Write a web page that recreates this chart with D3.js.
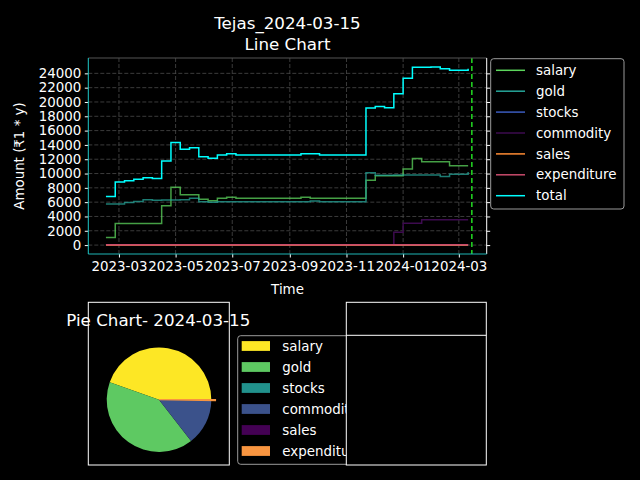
<!DOCTYPE html>
<html>
<head>
<meta charset="utf-8">
<script src="https://cdn.jsdelivr.net/npm/d3@7"></script>
<style>
  html, body { margin: 0; padding: 0; background: #000; }
  svg { display: block; font-family: "DejaVu Sans", sans-serif; }
</style>
</head>
<body>
<svg id="chart" width="640" height="480"></svg>
<script>
// ---------------- data ----------------
const dates = ["2023-02-15","2023-02-25","2023-03-07","2023-03-17","2023-03-27","2023-04-06","2023-04-16","2023-04-26",
  "2023-05-06","2023-05-16","2023-05-26","2023-06-05","2023-06-15","2023-06-25","2023-07-05","2023-07-15",
  "2023-07-25","2023-08-04","2023-08-14","2023-08-24","2023-09-03","2023-09-13","2023-09-23","2023-10-03",
  "2023-10-13","2023-10-23","2023-11-02","2023-11-12","2023-11-22","2023-12-02","2023-12-12","2023-12-22",
  "2024-01-01","2024-01-11","2024-01-21","2024-01-31","2024-02-10","2024-02-20","2024-03-01","2024-03-11"];

const salary = [1050,3000,3000,3000,3000,3000,5500,8100,7050,7050,6400,6200,6550,6700,6550,6550,
  6550,6550,6550,6550,6550,6700,6550,6550,6550,6550,6550,6550,9050,9700,9700,9700,
  10650,12100,11650,11650,11650,11100,11100,11100];
const gold = [5750,5750,5950,6100,6350,6250,6300,6300,6350,6550,6050,6000,6050,6050,6050,6050,
  6050,6050,6050,6050,6050,6050,6150,6050,6050,6050,6050,6050,10100,9750,9750,9800,
  9800,9800,9800,9800,9600,9900,9900,10200];
const stocks = [0,0,0,0,0,0,0,0,0,0,0,0,0,0,0,0,0,0,0,0,0,0,0,0,0,0,0,0,0,0,0,0,0,0,0,0,0,0,0,0];
const commodity = [0,0,0,0,0,0,0,0,0,0,0,0,0,0,0,0,0,0,0,0,0,0,0,0,0,0,0,0,0,0,0,1800,
  3050,3050,3550,3550,3550,3550,3550,3550];
const sales = [0,0,0,0,0,0,0,0,0,0,0,0,0,0,0,0,0,0,0,0,0,0,0,0,0,0,0,0,0,0,0,0,0,0,0,0,0,0,0,0];
const expenditure = [60,60,60,60,60,60,60,60,60,60,60,60,60,60,60,60,60,60,60,60,60,60,60,60,60,60,60,60,60,60,60,60,60,60,60,60,60,60,60,60];
const total = [6800,8800,9000,9200,9400,9300,11750,14350,13400,13600,12350,12150,12600,12750,12600,12600,
  12600,12600,12600,12600,12600,12750,12750,12600,12600,12600,12600,12600,19150,19350,19200,21150,
  23300,24850,24850,24900,24650,24450,24450,24650];

const seriesNames = ["salary","gold","stocks","commodity","sales","expenditure","total"];
const seriesValues = [salary, gold, stocks, commodity, sales, expenditure, total];
const lineColors = ["#5cd65c","#26a69a","#3b5bbf","#3d0b4f","#ff8c33","#c94b6c","#00ffff"];
const lineOpacity = [0.75,0.75,1,1,1,1,1];

const pieNames = ["salary","gold","stocks","commodity","sales","expenditure"];
const pieColors = ["#fde725","#5ec962","#21918c","#3b528b","#440154","#f89540"];

const yTicks = [0,2000,4000,6000,8000,10000,12000,14000,16000,18000,20000,22000,24000];
const xTicks = ["2023-03-01","2023-05-01","2023-07-01","2023-09-01","2023-11-01","2024-01-01","2024-03-01"];
const markerDate = "2024-03-15";
const titleText = ["Tejas_2024-03-15", "Line Chart"];
const pieTitle = "Pie Chart- 2024-03-15";

// ---------------- drawing ----------------
const parse = d3.utcParse("%Y-%m-%d");
const svg = d3.select("#chart");
const FONT = 13.4;

const plot = {left: 88.3, right: 486.7, top: 58, bottom: 254};
const x = d3.scaleUtc().domain([parse("2023-01-27"), parse("2024-03-31")]).range([plot.left, plot.right]);
const y = d3.scaleLinear().domain([-1245, 26145]).range([plot.bottom, plot.top]);

svg.append("rect").attr("width",640).attr("height",480).attr("fill","#000");

// grid
const grid = svg.append("g").attr("stroke","#4a4a4a").attr("stroke-width",0.8).attr("stroke-dasharray","4,2");
grid.selectAll("line.h").data(yTicks).join("line")
  .attr("x1",plot.left).attr("x2",plot.right).attr("y1",d=>y(d)).attr("y2",d=>y(d));
grid.selectAll("line.v").data(xTicks).join("line")
  .attr("y1",plot.top).attr("y2",plot.bottom).attr("x1",d=>x(parse(d))).attr("x2",d=>x(parse(d)));

// lines
const line = d3.line().curve(d3.curveStepAfter).x(d=>x(d[0])).y(d=>y(d[1]));
svg.append("clipPath").attr("id","plotclip").append("rect")
  .attr("x",plot.left).attr("y",plot.top).attr("width",plot.right-plot.left).attr("height",plot.bottom-plot.top);
const lg = svg.append("g").attr("clip-path","url(#plotclip)");
seriesValues.forEach((vals,i)=>{
  const pts = dates.map((d,j)=>[parse(d), vals[j]]);
  lg.append("path").attr("d", line(pts)).attr("fill","none")
    .attr("stroke", lineColors[i]).attr("stroke-opacity", lineOpacity[i]).attr("stroke-width",1.5);
});

// marker line
lg.append("line").attr("x1",x(parse(markerDate))).attr("x2",x(parse(markerDate)))
  .attr("y1",plot.top).attr("y2",plot.bottom)
  .attr("stroke","#22dd22").attr("stroke-width",1.5).attr("stroke-dasharray","5,3");

// axes
const xAxis = d3.axisBottom(x).tickValues(xTicks.map(parse)).tickFormat(d3.utcFormat("%Y-%m")).tickSize(3.5).tickPadding(3.5);
const gx = svg.append("g").attr("transform",`translate(0,${plot.bottom})`).call(xAxis);
gx.select(".domain").remove();
gx.selectAll("line").attr("stroke","#fff");
gx.selectAll("text").attr("fill","#fff").attr("font-size",FONT).attr("font-family","DejaVu Sans");

const yAxis = d3.axisLeft(y).tickValues(yTicks).tickFormat(d3.format("d")).tickSize(3.5).tickPadding(3.5);
const gy = svg.append("g").attr("transform",`translate(${plot.left},0)`).call(yAxis);
gy.select(".domain").remove();
gy.selectAll("line").attr("stroke","#fff");
gy.selectAll("text").attr("fill","#fff").attr("font-size",FONT).attr("font-family","DejaVu Sans");

const yAxisR = d3.axisRight(y).tickValues(yTicks).tickFormat("").tickSize(3.5);
const gyr = svg.append("g").attr("transform",`translate(${plot.right},0)`).call(yAxisR);
gyr.select(".domain").remove();
gyr.selectAll("line").attr("stroke","#fff");

// spines
svg.append("line").attr("x1",plot.left).attr("x2",plot.right).attr("y1",plot.top).attr("y2",plot.top).attr("stroke","#555").attr("stroke-width",1);
svg.append("line").attr("x1",plot.right).attr("x2",plot.right).attr("y1",plot.top).attr("y2",plot.bottom).attr("stroke","#fff").attr("stroke-width",1);
svg.append("line").attr("x1",plot.left).attr("x2",plot.right).attr("y1",plot.bottom).attr("y2",plot.bottom).attr("stroke","#1fb5b5").attr("stroke-width",1);
svg.append("line").attr("x1",plot.left).attr("x2",plot.left).attr("y1",plot.top).attr("y2",plot.bottom).attr("stroke","#1fc8c8").attr("stroke-width",1);

// titles
svg.append("text").attr("x",(plot.left+plot.right)/2).attr("y",29).attr("text-anchor","middle")
  .attr("fill","#fff").attr("font-size",16.7).text(titleText[0]);
svg.append("text").attr("x",(plot.left+plot.right)/2).attr("y",50).attr("text-anchor","middle")
  .attr("fill","#fff").attr("font-size",16.7).text(titleText[1]);
svg.append("text").attr("x",(plot.left+plot.right)/2).attr("y",294).attr("text-anchor","middle")
  .attr("fill","#fff").attr("font-size",FONT).text("Time");
svg.append("text").attr("transform",`translate(24,${(plot.top+plot.bottom)/2}) rotate(-90)`).attr("text-anchor","middle")
  .attr("fill","#fff").attr("font-size",FONT).text("Amount (₹1 * y)");

// line legend
const leg = svg.append("g");
leg.append("rect").attr("x",490.7).attr("y",58.7).attr("width",133.3).attr("height",150.3).attr("rx",3)
  .attr("fill","#000").attr("stroke","#9a9a9a").attr("stroke-width",1);
seriesNames.forEach((n,i)=>{
  const cy = 70.3 + i*20.9;
  leg.append("line").attr("x1",496).attr("x2",525).attr("y1",cy).attr("y2",cy).attr("stroke",lineColors[i]).attr("stroke-width",1.5);
  leg.append("text").attr("x",536).attr("y",cy).attr("dy","0.35em").attr("fill","#fff").attr("font-size",FONT).text(n);
});

// ---------------- pie ----------------
svg.append("rect").attr("x",88.3).attr("y",302.3).attr("width",141).attr("height",162.7)
  .attr("fill","#000").attr("stroke","#fff").attr("stroke-width",1);

const pieVals = [salary, gold, stocks, commodity, sales, expenditure].map(a=>a[a.length-1]);
const pie = d3.pie().sort(null).startAngle(Math.PI/2).endAngle(Math.PI/2 - 2*Math.PI);
const arcs = pie(pieVals);
const R = 52.3;
const pg = svg.append("g").attr("transform","translate(159,399.7)");
arcs.forEach((a,i)=>{
  if (a.value <= 0) return;
  const small = Math.abs(a.endAngle - a.startAngle) < 0.05;
  const arc = d3.arc().innerRadius(0).outerRadius(small ? R*1.08 : R);
  pg.append("path").attr("d", arc(a)).attr("fill", pieColors[i])
    .attr("stroke", small ? pieColors[i] : "none").attr("stroke-width", small ? 1.2 : 0);
});

svg.append("text").attr("x",158.3).attr("y",320).attr("dy","0.35em").attr("text-anchor","middle")
  .attr("fill","#fff").attr("font-size",16.7).text(pieTitle);

// pie legend
const pl = svg.append("g");
pl.append("rect").attr("x",237.7).attr("y",335.7).attr("width",150).attr("height",128.6).attr("rx",3)
  .attr("fill","#000").attr("stroke","#9a9a9a").attr("stroke-width",1);
pieNames.forEach((n,i)=>{
  const cy = 346 + i*21;
  pl.append("rect").attr("x",241.7).attr("y",cy-4.9).attr("width",28.3).attr("height",9.8).attr("fill",pieColors[i]);
  pl.append("text").attr("x",282.3).attr("y",cy).attr("dy","0.35em").attr("fill","#fff").attr("font-size",FONT).text(n);
});

// second (empty) axes on top
svg.append("rect").attr("x",346.3).attr("y",302.3).attr("width",140).attr("height",162.7)
  .attr("fill","#000").attr("stroke","#fff").attr("stroke-width",1);
svg.append("line").attr("x1",346.3).attr("x2",486.3).attr("y1",335.3).attr("y2",335.3).attr("stroke","#fff").attr("stroke-width",1);
</script>
</body>
</html>
